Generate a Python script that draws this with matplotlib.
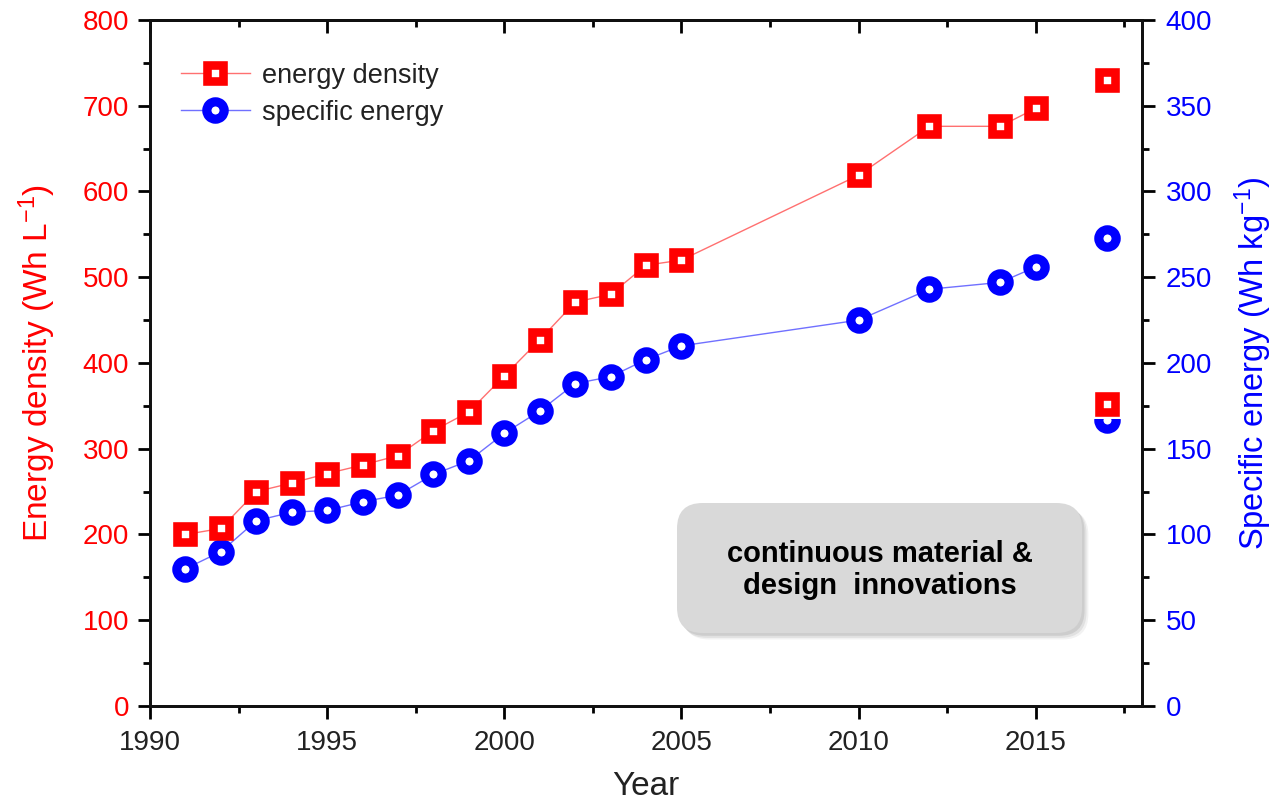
import matplotlib
matplotlib.use("Agg")
import matplotlib.pyplot as plt
from matplotlib.ticker import MultipleLocator
from matplotlib.patches import FancyBboxPatch
from matplotlib.lines import Line2D

plt.rcParams['font.family'] = ['Liberation Sans', 'DejaVu Sans']
plt.rcParams['mathtext.default'] = 'regular'

# ---- data ----
years = [1991, 1992, 1993, 1994, 1995, 1996, 1997, 1998, 1999, 2000,
         2001, 2002, 2003, 2004, 2005, 2010, 2012, 2014, 2015]
energy_density = [200, 207, 250, 260, 271, 281, 292, 321, 343, 385,
                  427, 471, 480, 514, 520, 619, 676, 676, 697]
specific_energy = [80, 90, 108, 113, 114, 119, 123, 135, 143, 159,
                   172, 188, 192, 202, 210, 225, 243, 247, 256]
years_2017 = [2017, 2017]
energy_density_2017 = [730, 352]
specific_energy_2017 = [273, 167]

RED = '#ff0000'
BLUE = '#0000ff'
TXT = '#222222'

fig = plt.figure(figsize=(12.78, 8.06), dpi=100)
ax = fig.add_axes([0.1174, 0.1241, 0.8936 - 0.1174, 0.9752 - 0.1241])
ax2 = ax.twinx()
ax.set_zorder(ax2.get_zorder() + 1)
ax.patch.set_visible(False)

sq_kw = dict(marker='s', markersize=11, markeredgewidth=6.2, markerfacecolor='white',
             markeredgecolor=RED)
ci_kw = dict(marker='o', markersize=12.5, markeredgewidth=6.6, markerfacecolor='white',
             markeredgecolor=BLUE)

ax.plot(years, energy_density, color='#ff7070', lw=1.0, **sq_kw)
ax.plot(years_2017, energy_density_2017, ls='none', marker='s', markersize=22,
        markerfacecolor='white', markeredgewidth=0)
ax.plot(years_2017, energy_density_2017, ls='none', **sq_kw)
ax2.plot(years, specific_energy, color='#7070ff', lw=1.0, **ci_kw)
ax2.plot(years_2017, specific_energy_2017, ls='none', **ci_kw)

ax.set_xlim(1990, 2018)
ax.set_ylim(0, 800)
ax2.set_ylim(0, 400)

ax.xaxis.set_major_locator(MultipleLocator(5))
ax.xaxis.set_minor_locator(MultipleLocator(2.5))
ax.yaxis.set_major_locator(MultipleLocator(100))
ax.yaxis.set_minor_locator(MultipleLocator(50))
ax2.yaxis.set_major_locator(MultipleLocator(50))
ax2.yaxis.set_minor_locator(MultipleLocator(25))

LW = 2.0
for a in (ax, ax2):
    for s in a.spines.values():
        s.set_linewidth(LW)
        s.set_color('#111111')

ax.tick_params(axis='x', which='major', direction='out', length=9, width=LW,
               labelsize=20, labelcolor=TXT, pad=8, top=False)
ax.tick_params(axis='x', which='minor', direction='out', length=5, width=LW, top=False)
ax.tick_params(axis='y', which='major', direction='out', length=9, width=LW,
               labelsize=20, labelcolor=RED, pad=6)
ax.tick_params(axis='y', which='minor', direction='out', length=5, width=LW)
ax2.tick_params(axis='y', which='major', direction='out', length=9, width=LW,
                labelsize=20, labelcolor=BLUE, pad=8)
ax2.tick_params(axis='y', which='minor', direction='out', length=5, width=LW)

secx = ax.secondary_xaxis('top')
secx.xaxis.set_major_locator(MultipleLocator(5))
secx.xaxis.set_minor_locator(MultipleLocator(2.5))
secx.tick_params(axis='x', which='major', direction='in', length=9, width=LW, labeltop=False)
secx.tick_params(axis='x', which='minor', direction='in', length=5, width=LW)
secx.spines['top'].set_linewidth(LW)

ax.set_xlabel('Year', fontsize=24, color=TXT, labelpad=11)
ax.set_ylabel('Energy density (Wh L$^{-1}$)', fontsize=24, color=RED, labelpad=18)
ax2.set_ylabel('Specific energy (Wh kg$^{-1}$)', fontsize=23.5, color=BLUE, labelpad=15)

handles = [
    Line2D([], [], color='#ff7070', lw=1.0, **sq_kw),
    Line2D([], [], color='#7070ff', lw=1.0, **ci_kw),
]
ax.legend(handles, ['energy density', 'specific energy'], loc='upper left',
          bbox_to_anchor=(0.031, 0.938), frameon=False, fontsize=19.5,
          handlelength=2.55, handletextpad=0.45, labelspacing=0.42,
          borderpad=0, borderaxespad=0, labelcolor=TXT)

# annotation box with shadow
x0, x1 = 677 / 1278, 1082 / 1278
y0, y1 = 1 - 633 / 806, 1 - 503 / 806
for dx, dy, al in [(0.005, -0.008, 0.10), (0.0035, -0.006, 0.15), (0.002, -0.0035, 0.2)]:
    fig.patches.append(FancyBboxPatch((x0 + dx, y0 + dy), x1 - x0, y1 - y0,
                                      boxstyle='round,pad=0,rounding_size=0.02',
                                      transform=fig.transFigure, facecolor='#808080',
                                      edgecolor='none', alpha=al, zorder=5,
                                      mutation_aspect=1278 / 806))
fig.patches.append(FancyBboxPatch((x0, y0), x1 - x0, y1 - y0,
                                  boxstyle='round,pad=0,rounding_size=0.02',
                                  transform=fig.transFigure, facecolor='#d9d9d9',
                                  edgecolor='none', zorder=6,
                                  mutation_aspect=1278 / 806))
fig.text((x0 + x1) / 2, 1 - 570 / 806, 'continuous material &\ndesign  innovations',
         ha='center', va='center', fontsize=21, fontweight='bold', color='black',
         linespacing=1.17, zorder=7)

fig.savefig('out.png', dpi=100)
